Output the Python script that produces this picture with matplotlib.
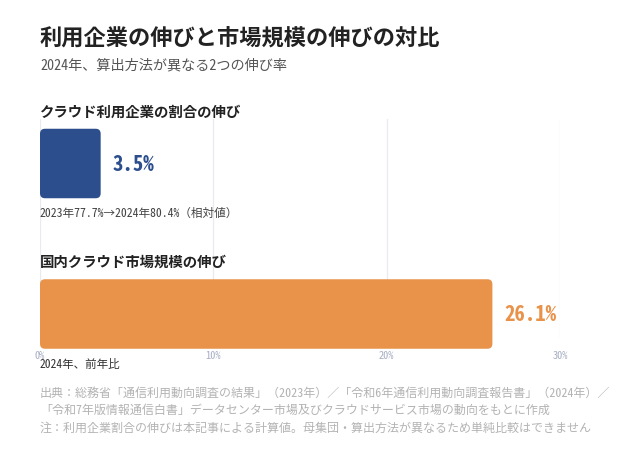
import matplotlib
matplotlib.use("Agg")
import matplotlib.pyplot as plt
from matplotlib.patches import FancyBboxPatch

plt.rcParams['font.family'] = ['Noto Sans Mono CJK JP', 'Noto Sans CJK JP', 'DejaVu Sans']

# data
labels = ['クラウド利用企業の割合の伸び', '国内クラウド市場規模の伸び']
values = [3.5, 26.1]
colors = ['#2c4e8d', '#e8924a']
notes = ['2023年77.7%→2024年80.4%（相対値）', '2024年、前年比']
xticks = [0, 10, 20, 30]
xtick_labels = ['0%', '10%', '20%', '30%']

title = '利用企業の伸びと市場規模の伸びの対比'
subtitle = '2024年、算出方法が異なる2つの伸び率'
footer = ['出典：総務省「通信利用動向調査の結果」（2023年）／「令和6年通信利用動向調査報告書」（2024年）／',
          '「令和7年版情報通信白書」データセンター市場及びクラウドサービス市場の動向をもとに作成',
          '注：利用企業割合の伸びは本記事による計算値。母集団・算出方法が異なるため単純比較はできません']

W, H = 620, 460
fig = plt.figure(figsize=(W / 100, H / 100), dpi=100)

def fx(px):
    return px / W

def fy(py):
    return 1 - py / H

# axes in pixel layout
ax_l, ax_r, ax_t, ax_b = 40, 560, 120, 339
ax = fig.add_axes([fx(ax_l), fy(ax_b), fx(ax_r - ax_l), (ax_b - ax_t) / H])
ypos = [0, 1]
row_px = 150.5
bar_h = 69.5 / row_px
ax.set_xlim(0, 30)
ax.set_ylim(1 + (ax_b - 315) / row_px, 0 - (164.5 - ax_t) / row_px)

# rounded bars
x_px = (ax_r - ax_l) / 30
r = 5 / x_px
aspect = (5 / row_px) / r
for y, v, c in zip(ypos, values, colors):
    p = FancyBboxPatch((0, y - bar_h / 2), v, bar_h,
                       boxstyle=f'round,pad=0,rounding_size={r}',
                       mutation_aspect=aspect, fc=c, ec='none',
                       clip_on=False, zorder=3)
    ax.add_patch(p)
    ax.text(v + 0.7, y, f'{v}%', color=c, fontsize=15, fontweight='bold',
            va='center', ha='left', zorder=4)

ax.set_xticks(xticks)
ax.set_xticklabels(xtick_labels)
ax.tick_params(axis='x', length=0, pad=9, labelsize=7.5, labelcolor='#a9afc4')
ax.set_yticks([])
ax.grid(axis='x', color='#e8e9f2', lw=0.9, zorder=0)
for s in ax.spines.values():
    s.set_visible(False)

# titles
fig.text(fx(40), fy(39), title, fontsize=16, fontweight='bold', color='#222222', va='center')
fig.text(fx(40), fy(65), subtitle, fontsize=10.2, color='#555555', va='center')

# row labels and notes
fig.text(fx(40), fy(113), labels[0], fontsize=10.4, fontweight='bold', color='#222222', va='center')
fig.text(fx(40), fy(213), notes[0], fontsize=8.4, color='#444444', va='center')
fig.text(fx(40), fy(263), labels[1], fontsize=10.4, fontweight='bold', color='#222222', va='center')
fig.text(fx(40), fy(364), notes[1], fontsize=8.3, color='#333333', va='center')

for i, line in enumerate(footer):
    fig.text(fx(40), fy(393 + i * 17.5), line, fontsize=8.65, color='#b3b3b3', va='center')

fig.savefig('out.png', dpi=100, facecolor='white')
